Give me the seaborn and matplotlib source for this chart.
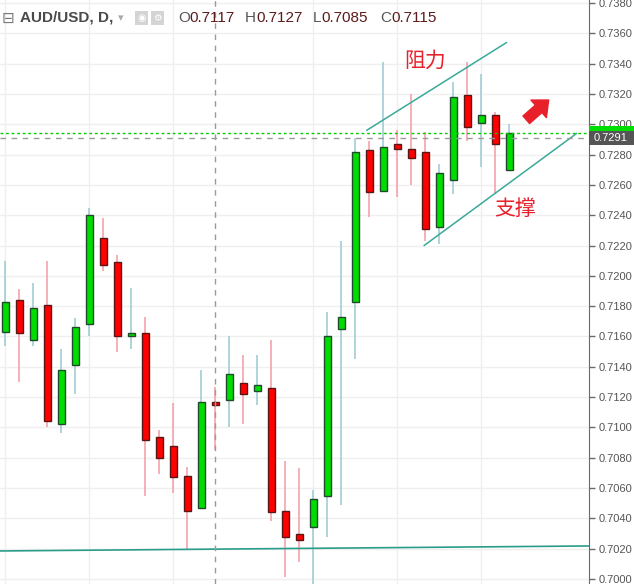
import numpy as np
import pandas as pd
import seaborn as sns
import matplotlib.pyplot as plt
from matplotlib.patches import Rectangle

# daily AUD/USD candles
opens = [0.7163, 0.7184, 0.7158, 0.7181, 0.7102, 0.7141, 0.7168, 0.7225, 0.7209, 0.7160,
         0.7162, 0.7094, 0.7088, 0.7068, 0.7047, 0.7117, 0.7118, 0.7129, 0.7124, 0.7126,
         0.7045, 0.7030, 0.7034, 0.7055, 0.7165, 0.7183, 0.7283, 0.7256, 0.7287, 0.7284,
         0.7282, 0.7232, 0.7263, 0.7319, 0.7301, 0.7306, 0.7270]
highs = [0.7210, 0.7191, 0.7195, 0.7210, 0.7152, 0.7172, 0.7245, 0.7238, 0.7214, 0.7192,
         0.7173, 0.7098, 0.7116, 0.7074, 0.7138, 0.7127, 0.7160, 0.7148, 0.7148, 0.7158,
         0.7078, 0.7073, 0.7059, 0.7176, 0.7223, 0.7291, 0.7289, 0.7341, 0.7296, 0.7320,
         0.7295, 0.7274, 0.7328, 0.7341, 0.7333, 0.7308, 0.7300]
lows = [0.7154, 0.7130, 0.7154, 0.7100, 0.7096, 0.7122, 0.7160, 0.7203, 0.7150, 0.7152,
        0.7055, 0.7069, 0.7057, 0.7020, 0.7046, 0.7085, 0.7100, 0.7102, 0.7115, 0.7038,
        0.7001, 0.7011, 0.6997, 0.7028, 0.7049, 0.7145, 0.7239, 0.7256, 0.7252, 0.7260,
        0.7223, 0.7221, 0.7254, 0.7289, 0.7272, 0.7254, 0.7270]
closes = [0.7183, 0.7162, 0.7179, 0.7104, 0.7138, 0.7166, 0.7240, 0.7207, 0.7160, 0.7162,
          0.7092, 0.7080, 0.7067, 0.7045, 0.7117, 0.7115, 0.7135, 0.7122, 0.7128, 0.7044,
          0.7028, 0.7026, 0.7053, 0.7160, 0.7173, 0.7282, 0.7255, 0.7285, 0.7284, 0.7278,
          0.7231, 0.7268, 0.7318, 0.7298, 0.7306, 0.7287, 0.7294]

price_ticks = [round(0.7000 + 0.0020 * k, 4) for k in range(20)]
week_grid = [0, 6, 12, 22, 28, 34]

crosshair_idx = 15
crosshair_price = 0.7291

# hand drawn lines (candle index, price)
resist_x = [25.8, 35.8]
resist_y = [0.7296, 0.7354]
support_x = [29.9, 40.8]
support_y = [0.7220, 0.7294]
base_x = [-0.4, 41.7]
base_y = [0.70185, 0.70218]
arrow_from = (37.2, 0.7303)
arrow_to = (38.8, 0.7316)
labels = ["阻力", "支撑"]
label_x = [30.0, 36.4]
label_y = [0.7342, 0.7244]

df = pd.DataFrame({"open": opens, "high": highs, "low": lows, "close": closes})
df["idx"] = np.arange(len(df))
up = df["close"] >= df["open"]

sns.set_style("white")
plt.rcParams['font.family'] = ['Liberation Sans', 'DejaVu Sans']

fig = plt.figure(figsize=(6.34, 5.84), dpi=100)
ax = fig.add_axes([0, 0, 589 / 634, 1])

ax.set_xlim(-0.39, 41.68)
ax.set_ylim(0.69967, 0.73820)

# grid
for y in price_ticks:
    ax.axhline(y, color='#efefef', lw=1, zorder=0)
for x in week_grid:
    ax.axvline(x, color='#efefef', lw=1, zorder=0)

# candles
wick_cols = np.where(up, '#a3cdd5', '#f3a3ac')
ax.vlines(df["idx"], df["low"], df["high"], colors=wick_cols, lw=1.2, zorder=2)
bottoms = np.minimum(df["open"], df["close"])
heights = np.maximum((df["close"] - df["open"]).abs(), 0.00012)
ax.bar(df["idx"], heights, bottom=bottoms, width=0.56,
       color=np.where(up, '#00dd00', '#ff0000'),
       edgecolor=np.where(up, '#1f4a2c', '#5a1515'), lw=1, zorder=3)

# trend lines
line_col = '#3aa999'
sns.lineplot(x=resist_x, y=resist_y, ax=ax, color=line_col, lw=1.1, zorder=4)
sns.lineplot(x=support_x, y=support_y, ax=ax, color=line_col, lw=1.1, zorder=4)
sns.lineplot(x=base_x, y=base_y, ax=ax, color='#2a9d8a', lw=1.2, zorder=4)

# last price and crosshair
ax.axhline(closes[-1], color='#00cc00', lw=1, ls=(0, (2, 2)), zorder=4)
ax.axhline(crosshair_price, color='#9a9a9a', lw=1, ls=(0, (4, 4)), zorder=4)
ax.axvline(crosshair_idx, color='#9a9a9a', lw=1, ls=(0, (4, 4)), zorder=4)

# annotations
for t, x, y in zip(labels, label_x, label_y):
    ax.text(x, y, t, color='#e8212b', fontsize=15, ha='center', va='center',
            family=['Noto Sans CJK SC', 'DejaVu Sans'], zorder=6)
ax.annotate('', xy=arrow_to, xytext=arrow_from,
            arrowprops=dict(arrowstyle='simple,head_length=0.8,head_width=1.4,tail_width=0.6',
                            color='#e8202a', mutation_scale=12, shrinkA=0, shrinkB=0),
            zorder=6)

# axes styling
for s in ['top', 'left', 'bottom']:
    ax.spines[s].set_visible(False)
ax.spines['right'].set_color('#6a6a6a')
ax.yaxis.tick_right()
ax.set_yticks(price_ticks)
ax.set_yticklabels([f"{v:.4f}" for v in price_ticks])
ax.tick_params(axis='y', direction='out', length=4, width=1, color='#6a6a6a',
               labelsize=8, labelcolor='#555555', pad=3)
ax.set_xticks([])

# price label boxes on the axis
ytr = ax.get_yaxis_transform()
ax.add_patch(Rectangle((1.0, closes[-1] - 0.00046), 0.077, 0.00092, transform=ytr,
                       clip_on=False, fc='#00dd00', ec='none', zorder=7))
ax.add_patch(Rectangle((1.0, crosshair_price - 0.00046), 0.077, 0.00092, transform=ytr,
                       clip_on=False, fc='#555555', ec='none', zorder=8))
ax.text(1.037, crosshair_price, f"{crosshair_price:.4f}", transform=ytr, color='white',
        fontsize=8, ha='center', va='center', zorder=9, clip_on=False)

# header
hy = 1 - 18 / 584
fig.text(2 / 634, hy, "⊟", family='DejaVu Sans', fontsize=11, color='#777777', va='center')
fig.text(20 / 634, hy, "AUD/USD, D,", fontsize=11, fontweight='bold', color='#4a4a4a', va='center')
fig.text(118 / 634, hy, "▾", family='DejaVu Sans', fontsize=8, color='#aaaaaa', va='center')
fig.text(137 / 634, hy, "◉", family='DejaVu Sans', fontsize=7, color='white', va='center',
         bbox=dict(boxstyle='square,pad=0.25', fc='#d4d4d4', ec='none'))
fig.text(153 / 634, hy, "⚙", family='DejaVu Sans', fontsize=7, color='white', va='center',
         bbox=dict(boxstyle='square,pad=0.25', fc='#d4d4d4', ec='none'))
ohlc = [("O", opens[crosshair_idx], 178), ("H", highs[crosshair_idx], 245),
        ("L", lows[crosshair_idx], 313), ("C", closes[crosshair_idx], 380)]
for letter, val, px in ohlc:
    fig.text(px / 634, hy, letter, fontsize=11, color='#555555', va='center')
    off = 11 if letter != "L" else 8.5
    fig.text((px + off) / 634, hy, f"{val:.4f}", fontsize=11, color='#5c1a1a', va='center')

fig.savefig("out.png", dpi=100, facecolor='white')
